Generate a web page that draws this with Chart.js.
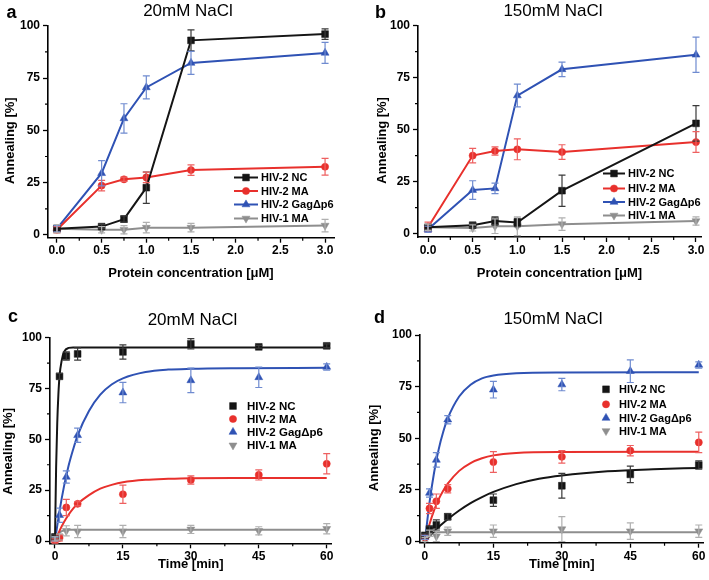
<!DOCTYPE html>
<html><head><meta charset="utf-8">
<script src="https://cdn.jsdelivr.net/npm/chart.js@4.4.1/dist/chart.umd.min.js"></script>
<style>
html,body{margin:0;padding:0;background:#fff;}
#wrap{position:relative;width:709px;height:580px;overflow:hidden;background:#fff;}
canvas{position:absolute;}
</style></head><body>
<div id="wrap">
<canvas id="ca" width="354" height="290" style="left:0;top:0"></canvas>
<canvas id="cb" width="355" height="290" style="left:354px;top:0"></canvas>
<canvas id="cc" width="354" height="290" style="left:0;top:290px"></canvas>
<canvas id="cd" width="355" height="290" style="left:354px;top:290px"></canvas>
</div>
<script>
// ---------- DATA ----------
const seriesNames = ['HIV-2 NC', 'HIV-2 MA', 'HIV-2 Gag\u0394p6', 'HIV-1 MA'];

// Panel a: 20mM NaCl, concentration
const aX = [0, 0.5, 0.75, 1, 1.5, 3];
const aNC = [3, 4, 7.6, 22.6, 93, 96];
const aNCErr = [1.5, 1, 1.5, 7.5, 5, 2.5];
const aMA = [2.5, 23.6, 26.6, 27.5, 31, 32.6];
const aMAErr = [1.5, 2.5, 1, 2.5, 2.5, 4];
const aGag = [3, 29.5, 55.7, 70.5, 82.2, 87];
const aGagErr = [1.5, 6, 7, 5.5, 5.5, 5];
const aHIV1 = [3, 2.5, 2.5, 3.5, 3.5, 4.5];
const aHIV1Err = [2, 1.5, 2, 2.5, 2, 3];

// Panel b: 150mM NaCl, concentration
const bX = [0, 0.5, 0.75, 1, 1.5, 3];
const bNC = [3, 4, 6, 5.3, 20.6, 53];
const bNCErr = [1, 1, 2, 2, 7.5, 8.5];
const bMA = [3, 37.5, 39.7, 40.5, 39.2, 44];
const bMAErr = [2.5, 3.5, 2, 5, 3.5, 5];
const bGag = [2, 20.9, 21.7, 66.4, 79, 86];
const bGagErr = [1.5, 4.5, 2.5, 5.5, 3.5, 8.5];
const bHIV1 = [3, 2.7, 3.5, 3.5, 4.5, 6];
const bHIV1Err = [1.5, 1.5, 3.5, 4.5, 3, 2];

// Panel c: 20mM NaCl, time
const cX = [0, 1, 2.5, 5, 15, 30, 45, 60];
const cNC = [2, 81, 91, 92, 93, 97, 95.5, 96];
const cNCErr = [1, 1.5, 2, 3, 3.5, 2.5, 0.7, 1];
const cMA = [0, 1.5, 16.5, 18.3, 23, 30, 32.5, 38];
const cMAErr = [1, 1.5, 4, 1, 4.5, 2, 2.5, 5];
const cGag = [1, 12.7, 31.5, 52, 73, 79, 80.5, 85.6];
const cGagErr = [1, 3.5, 3, 3.5, 5, 6, 5, 1.5];
const cHIV1 = [1, 2, 5, 4.7, 4.7, 5.7, 5, 6];
const cHIV1Err = [1, 1.5, 2.5, 3, 3, 2, 2, 2.5];
// fitted curves
const cFitNCx = [0, 0.25, 0.5, 0.75, 1, 1.5, 2, 3, 4, 60];
const cFitNCy = [0, 36, 58, 72, 81, 89, 93, 95, 95.2, 95.2];
const cFitMAx = [0, 1, 2, 3, 4, 5, 7.5, 10, 12.5, 15, 20, 25, 30, 40, 60];
const cFitMAy = [0, 5, 9.3, 12.9, 15.9, 18.3, 22.6, 25.8, 27.6, 28.9, 30.1, 30.6, 30.9, 31, 31];
const cFitGagx = [0, 1, 2, 3, 4, 5, 7.5, 10, 12.5, 15, 20, 25, 30, 40, 60];
const cFitGagy = [0, 14.7, 27, 37, 45, 52, 64, 72, 77, 80, 83.1, 84.3, 84.7, 85, 85.2];
const cFitHIV1x = [0, 0.5, 1, 1.5, 2, 3, 60];
const cFitHIV1y = [0, 2.5, 4, 4.8, 5.2, 5.5, 5.5];

// Panel d: 150mM NaCl, time
const dX = [0, 1, 2.5, 5, 15, 30, 45, 60];
const dNC = [3, 6, 8, 12, 20, 27, 32.5, 37];
const dNCErr = [1, 1.5, 2.5, 1.5, 3, 6, 4, 2];
const dMA = [2, 16, 19.5, 25.5, 38.5, 41, 44, 48];
const dMAErr = [1, 2.5, 3.5, 2, 5, 3, 2.5, 5];
const dGag = [2, 23.5, 39.5, 59, 73.5, 76, 82.5, 85.5];
const dGagErr = [1, 2, 3.5, 2, 4, 3, 5.5, 1.5];
const dHIV1 = [1, 4, 2.5, 5, 5, 6, 5, 5];
const dHIV1Err = [1, 1.5, 2.5, 2, 3, 6, 4, 3];
const dFitNCx = [0, 2.5, 5, 7.5, 10, 12.5, 15, 20, 25, 30, 40, 50, 60];
const dFitNCy = [0, 6, 10.8, 15, 18.6, 21.5, 24, 27.8, 30.4, 32, 34, 35, 35.6];
const dFitMAx = [0, 1, 2, 3, 4, 5, 7.5, 10, 12.5, 15, 20, 30, 60];
const dFitMAy = [0, 8.4, 15.1, 20.4, 24.6, 28, 34.2, 38, 40.3, 41.7, 42.9, 43.4, 43.5];
const dFitGagx = [0, 1, 2, 3, 4, 5, 7.5, 10, 12.5, 15, 20, 30, 60];
const dFitGagy = [0, 18.8, 33.3, 44.5, 53, 59.6, 70.2, 75.9, 79, 80.4, 81.5, 81.9, 82];
const dFitHIV1x = [0, 0.5, 1, 2, 3, 60];
const dFitHIV1y = [0, 2.5, 3.5, 4.3, 4.5, 4.5];

// Axis ticks
const concTicks = [0, 0.5, 1, 1.5, 2, 2.5, 3];
const concTickLabels = ['0.0', '0.5', '1.0', '1.5', '2.0', '2.5', '3.0'];
const concMinor = [0.25, 0.75, 1.25, 1.75, 2.25, 2.75];
const timeTicks = [0, 15, 30, 45, 60];
const timeTickLabels = ['0', '15', '30', '45', '60'];
const timeMinor = [7.5, 22.5, 37.5, 52.5];
const yTicks = [0, 25, 50, 75, 100];
const yTickLabels = ['0', '25', '50', '75', '100'];
const yMinor = [12.5, 37.5, 62.5, 87.5];

// ---------- STYLE ----------
Chart.defaults.font.family = "'Liberation Sans', Arial, Helvetica, sans-serif";
Chart.defaults.color = '#000';
const COL = ['#151515', '#e8302c', '#2f52b4', '#8e8e8e'];
const ERRCOL = ['#3a3a3a', '#ee6060', '#6f8bd0', '#b0b0b0'];
const PSTYLE = [
  {pointStyle: 'rect', radius: 4.8, rotation: 0},
  {pointStyle: 'circle', radius: 3.6, rotation: 0},
  {pointStyle: 'triangle', radius: 4.6, rotation: 0},
  {pointStyle: 'triangle', radius: 4.6, rotation: 180}
];

const zip = (xs, ys) => xs.map((x, i) => ({x: x, y: ys[i]}));

function seriesDS(k, xs, ys, errs, withLine) {
  return {
    label: seriesNames[k],
    data: zip(xs, ys),
    errorBars: errs,
    errorColor: ERRCOL[k],
    showLine: withLine,
    borderColor: COL[k],
    backgroundColor: COL[k],
    borderWidth: 2,
    pointStyle: PSTYLE[k].pointStyle,
    pointRadius: PSTYLE[k].radius,
    pointRotation: PSTYLE[k].rotation,
    pointBorderWidth: 0.5,
    pointHoverRadius: PSTYLE[k].radius,
    legendIndex: k,
    order: k
  };
}
function fitDS(k, xs, ys) {
  return {
    data: zip(xs, ys),
    showLine: true,
    borderColor: COL[k],
    borderWidth: 2,
    pointRadius: 0,
    pointHoverRadius: 0,
    cubicInterpolationMode: 'monotone',
    order: 10 + k
  };
}

// error bars
const errorBarPlugin = {
  id: 'errorBars',
  afterDatasetsDraw(chart) {
    const ctx = chart.ctx, ys = chart.scales.y;
    chart.data.datasets.forEach((ds, i) => {
      if (!ds.errorBars) return;
      const meta = chart.getDatasetMeta(i);
      ctx.save();
      ctx.strokeStyle = ds.errorColor;
      ctx.lineWidth = 1.2;
      meta.data.forEach((pt, j) => {
        const e = ds.errorBars[j];
        if (!e) return;
        const v = ds.data[j].y;
        const y1 = ys.getPixelForValue(v + e), y2 = ys.getPixelForValue(v - e);
        const x = pt.x, cw = 3.5;
        ctx.beginPath();
        ctx.moveTo(x, y1); ctx.lineTo(x, y2);
        ctx.moveTo(x - cw, y1); ctx.lineTo(x + cw, y1);
        ctx.moveTo(x - cw, y2); ctx.lineTo(x + cw, y2);
        ctx.stroke();
      });
      ctx.restore();
    });
  }
};

// panel decorations: letter, title, minor ticks, legend
const decoPlugin = {
  id: 'deco',
  afterDraw(chart, args, o) {
    const ctx = chart.ctx, xs = chart.scales.x, ys = chart.scales.y, ca = chart.chartArea;
    ctx.save();
    // minor ticks
    ctx.strokeStyle = '#000'; ctx.lineWidth = 1.2;
    ctx.beginPath();
    (o.minorX || []).forEach(v => { const px = xs.getPixelForValue(v); ctx.moveTo(px, ca.bottom); ctx.lineTo(px, ca.bottom + 3); });
    (o.minorY || []).forEach(v => { const py = ys.getPixelForValue(v); ctx.moveTo(ca.left, py); ctx.lineTo(ca.left - 3, py); });
    ctx.stroke();
    // letter
    ctx.fillStyle = '#000';
    ctx.textBaseline = 'alphabetic';
    ctx.textAlign = 'left';
    ctx.font = "bold 18px 'Liberation Sans', Arial, sans-serif";
    ctx.fillText(o.letter, o.letterX, o.letterY);
    // title
    ctx.textAlign = 'center';
    ctx.font = "17px 'Liberation Sans', Arial, sans-serif";
    ctx.fillText(o.title, o.titleX, o.titleY);
    // legend
    const L = o.legend;
    ctx.font = "bold " + L.fontSize + "px 'Liberation Sans', Arial, sans-serif";
    ctx.textAlign = 'left';
    ctx.textBaseline = 'middle';
    const items = chart.data.datasets.filter(d => d.legendIndex !== undefined);
    items.forEach((d, r) => {
      const y = L.ys[r];
      if (L.line) {
        ctx.strokeStyle = d.borderColor; ctx.lineWidth = 2;
        ctx.beginPath(); ctx.moveTo(L.lineX0, y); ctx.lineTo(L.lineX1, y); ctx.stroke();
      }
      ctx.fillStyle = d.backgroundColor; ctx.strokeStyle = d.borderColor; ctx.lineWidth = 0.5;
      Chart.helpers.drawPoint(ctx, {pointStyle: d.pointStyle, radius: d.pointRadius, rotation: d.pointRotation, borderWidth: 0.5}, L.markerX, y);
      ctx.fillStyle = '#000';
      ctx.fillText(d.label, L.textX, y + 0.5);
    });
    ctx.restore();
  }
};

function makeScales(o) {
  const tickFont = {size: 12, weight: 'bold'};
  const titleFont = {size: 13, weight: 'bold'};
  const grid = {drawOnChartArea: false, drawTicks: true, tickLength: 5, tickColor: '#000', tickWidth: 1.3};
  const border = {display: true, color: '#000', width: 1.6};
  const zeroPad = s => { s.paddingLeft = 0; s.paddingRight = 0; s.paddingTop = 0; s.paddingBottom = 0; };
  return {
    x: {
      type: 'linear', min: o.xmin, max: o.xmax,
      afterBuildTicks: s => { s.ticks = o.xticks.map(v => ({value: v})); },
      afterFit: s => { s.height = o.xh; zeroPad(s); },
      ticks: {autoSkip: false, maxRotation: 0, padding: o.xpad, color: '#000', font: tickFont,
        callback: (v, i) => o.xlabels[i]},
      grid: grid, border: border,
      title: {display: true, text: o.xtitle, color: '#000', font: titleFont, padding: {top: 0, bottom: o.xtp}}
    },
    y: {
      type: 'linear', min: o.ymin, max: o.ymax,
      afterBuildTicks: s => { s.ticks = yTicks.map(v => ({value: v})); },
      afterFit: s => { s.width = o.yw; zeroPad(s); },
      ticks: {autoSkip: false, padding: 3, color: '#000', font: tickFont,
        callback: (v, i) => yTickLabels[i]},
      grid: grid, border: border,
      title: {display: true, text: 'Annealing [%]' + ' '.repeat(o.yshift), color: '#000', font: titleFont, padding: {top: o.ytp, bottom: 0}}
    }
  };
}

function makeChart(id, datasets, sc, pad, deco) {
  return new Chart(document.getElementById(id), {
    type: 'scatter',
    data: {datasets: datasets},
    options: {
      responsive: false, animation: false, devicePixelRatio: 1,
      layout: {padding: pad},
      scales: makeScales(sc),
      plugins: {legend: {display: false}, tooltip: {enabled: false}, title: {display: false}, deco: deco},
      elements: {line: {tension: 0}}
    },
    plugins: [errorBarPlugin, decoPlugin]
  });
}

// Panel a
makeChart('ca', [
  seriesDS(0, aX, aNC, aNCErr, true),
  seriesDS(1, aX, aMA, aMAErr, true),
  seriesDS(2, aX, aGag, aGagErr, true),
  seriesDS(3, aX, aHIV1, aHIV1Err, true)
], {xmin: -0.1, xmax: 3.1, xticks: concTicks, xlabels: concTickLabels, xh: 52.3, xpad: 1,
    xtitle: 'Protein concentration [\u03bcM]', xtp: 9.2, ymin: -1.3, ymax: 100, yw: 48, ytp: 2.2, yshift: 5},
  {top: 25.7, right: 20, bottom: 0, left: 0},
  {letter: 'a', letterX: 6.5, letterY: 17.5, title: '20mM NaCl', titleX: 188, titleY: 15.5,
   minorX: concMinor, minorY: yMinor,
   legend: {line: true, fontSize: 11, lineX0: 234, lineX1: 258, markerX: 246, textX: 261, ys: [177.5, 191, 204.5, 218.5]}});

// Panel b
makeChart('cb', [
  seriesDS(0, bX, bNC, bNCErr, true),
  seriesDS(1, bX, bMA, bMAErr, true),
  seriesDS(2, bX, bGag, bGagErr, true),
  seriesDS(3, bX, bHIV1, bHIV1Err, true)
], {xmin: -0.112, xmax: 3.056, xticks: concTicks, xlabels: concTickLabels, xh: 53, xpad: 1,
    xtitle: 'Protein concentration [\u03bcM]', xtp: 9.2, ymin: -1.68, ymax: 100, yw: 64, ytp: 20.2, yshift: 5},
  {top: 25.7, right: 8, bottom: 0, left: 0},
  {letter: 'b', letterX: 21, letterY: 17.5, title: '150mM NaCl', titleX: 199, titleY: 15.5,
   minorX: concMinor, minorY: yMinor,
   legend: {line: true, fontSize: 11, lineX0: 249, lineX1: 271, markerX: 260, textX: 274, ys: [173.5, 188.5, 202, 215.5]}});

// Panel c
makeChart('cc', [
  fitDS(0, cFitNCx, cFitNCy), fitDS(1, cFitMAx, cFitMAy), fitDS(2, cFitGagx, cFitGagy), fitDS(3, cFitHIV1x, cFitHIV1y),
  seriesDS(0, cX, cNC, cNCErr, false),
  seriesDS(1, cX, cMA, cMAErr, false),
  seriesDS(2, cX, cGag, cGagErr, false),
  seriesDS(3, cX, cHIV1, cHIV1Err, false)
], {xmin: -1.1, xmax: 61.1, xticks: timeTicks, xlabels: timeTickLabels, xh: 36.7, xpad: 1,
    xtitle: 'Time [min]', xtp: 8.2, ymin: -1.13, ymax: 100, yw: 50, ytp: 0.2, yshift: 6},
  {top: 47.7, right: 22.3, bottom: 0, left: 0},
  {letter: 'c', letterX: 8, letterY: 32, title: '20mM NaCl', titleX: 192.5, titleY: 35,
   minorX: timeMinor, minorY: yMinor,
   legend: {line: false, fontSize: 11.5, markerX: 233, textX: 247, ys: [116, 129, 142, 155.3]}});

// Panel d
makeChart('cd', [
  fitDS(0, dFitNCx, dFitNCy), fitDS(1, dFitMAx, dFitMAy), fitDS(2, dFitGagx, dFitGagy), fitDS(3, dFitHIV1x, dFitHIV1y),
  seriesDS(0, dX, dNC, dNCErr, false),
  seriesDS(1, dX, dMA, dMAErr, false),
  seriesDS(2, dX, dGag, dGagErr, false),
  seriesDS(3, dX, dHIV1, dHIV1Err, false)
], {xmin: -1.08, xmax: 61.08, xticks: timeTicks, xlabels: timeTickLabels, xh: 37.3, xpad: 2,
    xtitle: 'Time [min]', xtp: 8.2, ymin: -0.58, ymax: 100, yw: 66, ytp: 12.2, yshift: 5},
  {top: 45, right: 2.3, bottom: 0, left: 0},
  {letter: 'd', letterX: 20, letterY: 32.5, title: '150mM NaCl', titleX: 199, titleY: 33.5,
   minorX: timeMinor, minorY: yMinor,
   legend: {line: false, fontSize: 11, markerX: 252, textX: 265, ys: [99.3, 114.3, 128, 141]}});
</script>
</body></html>
